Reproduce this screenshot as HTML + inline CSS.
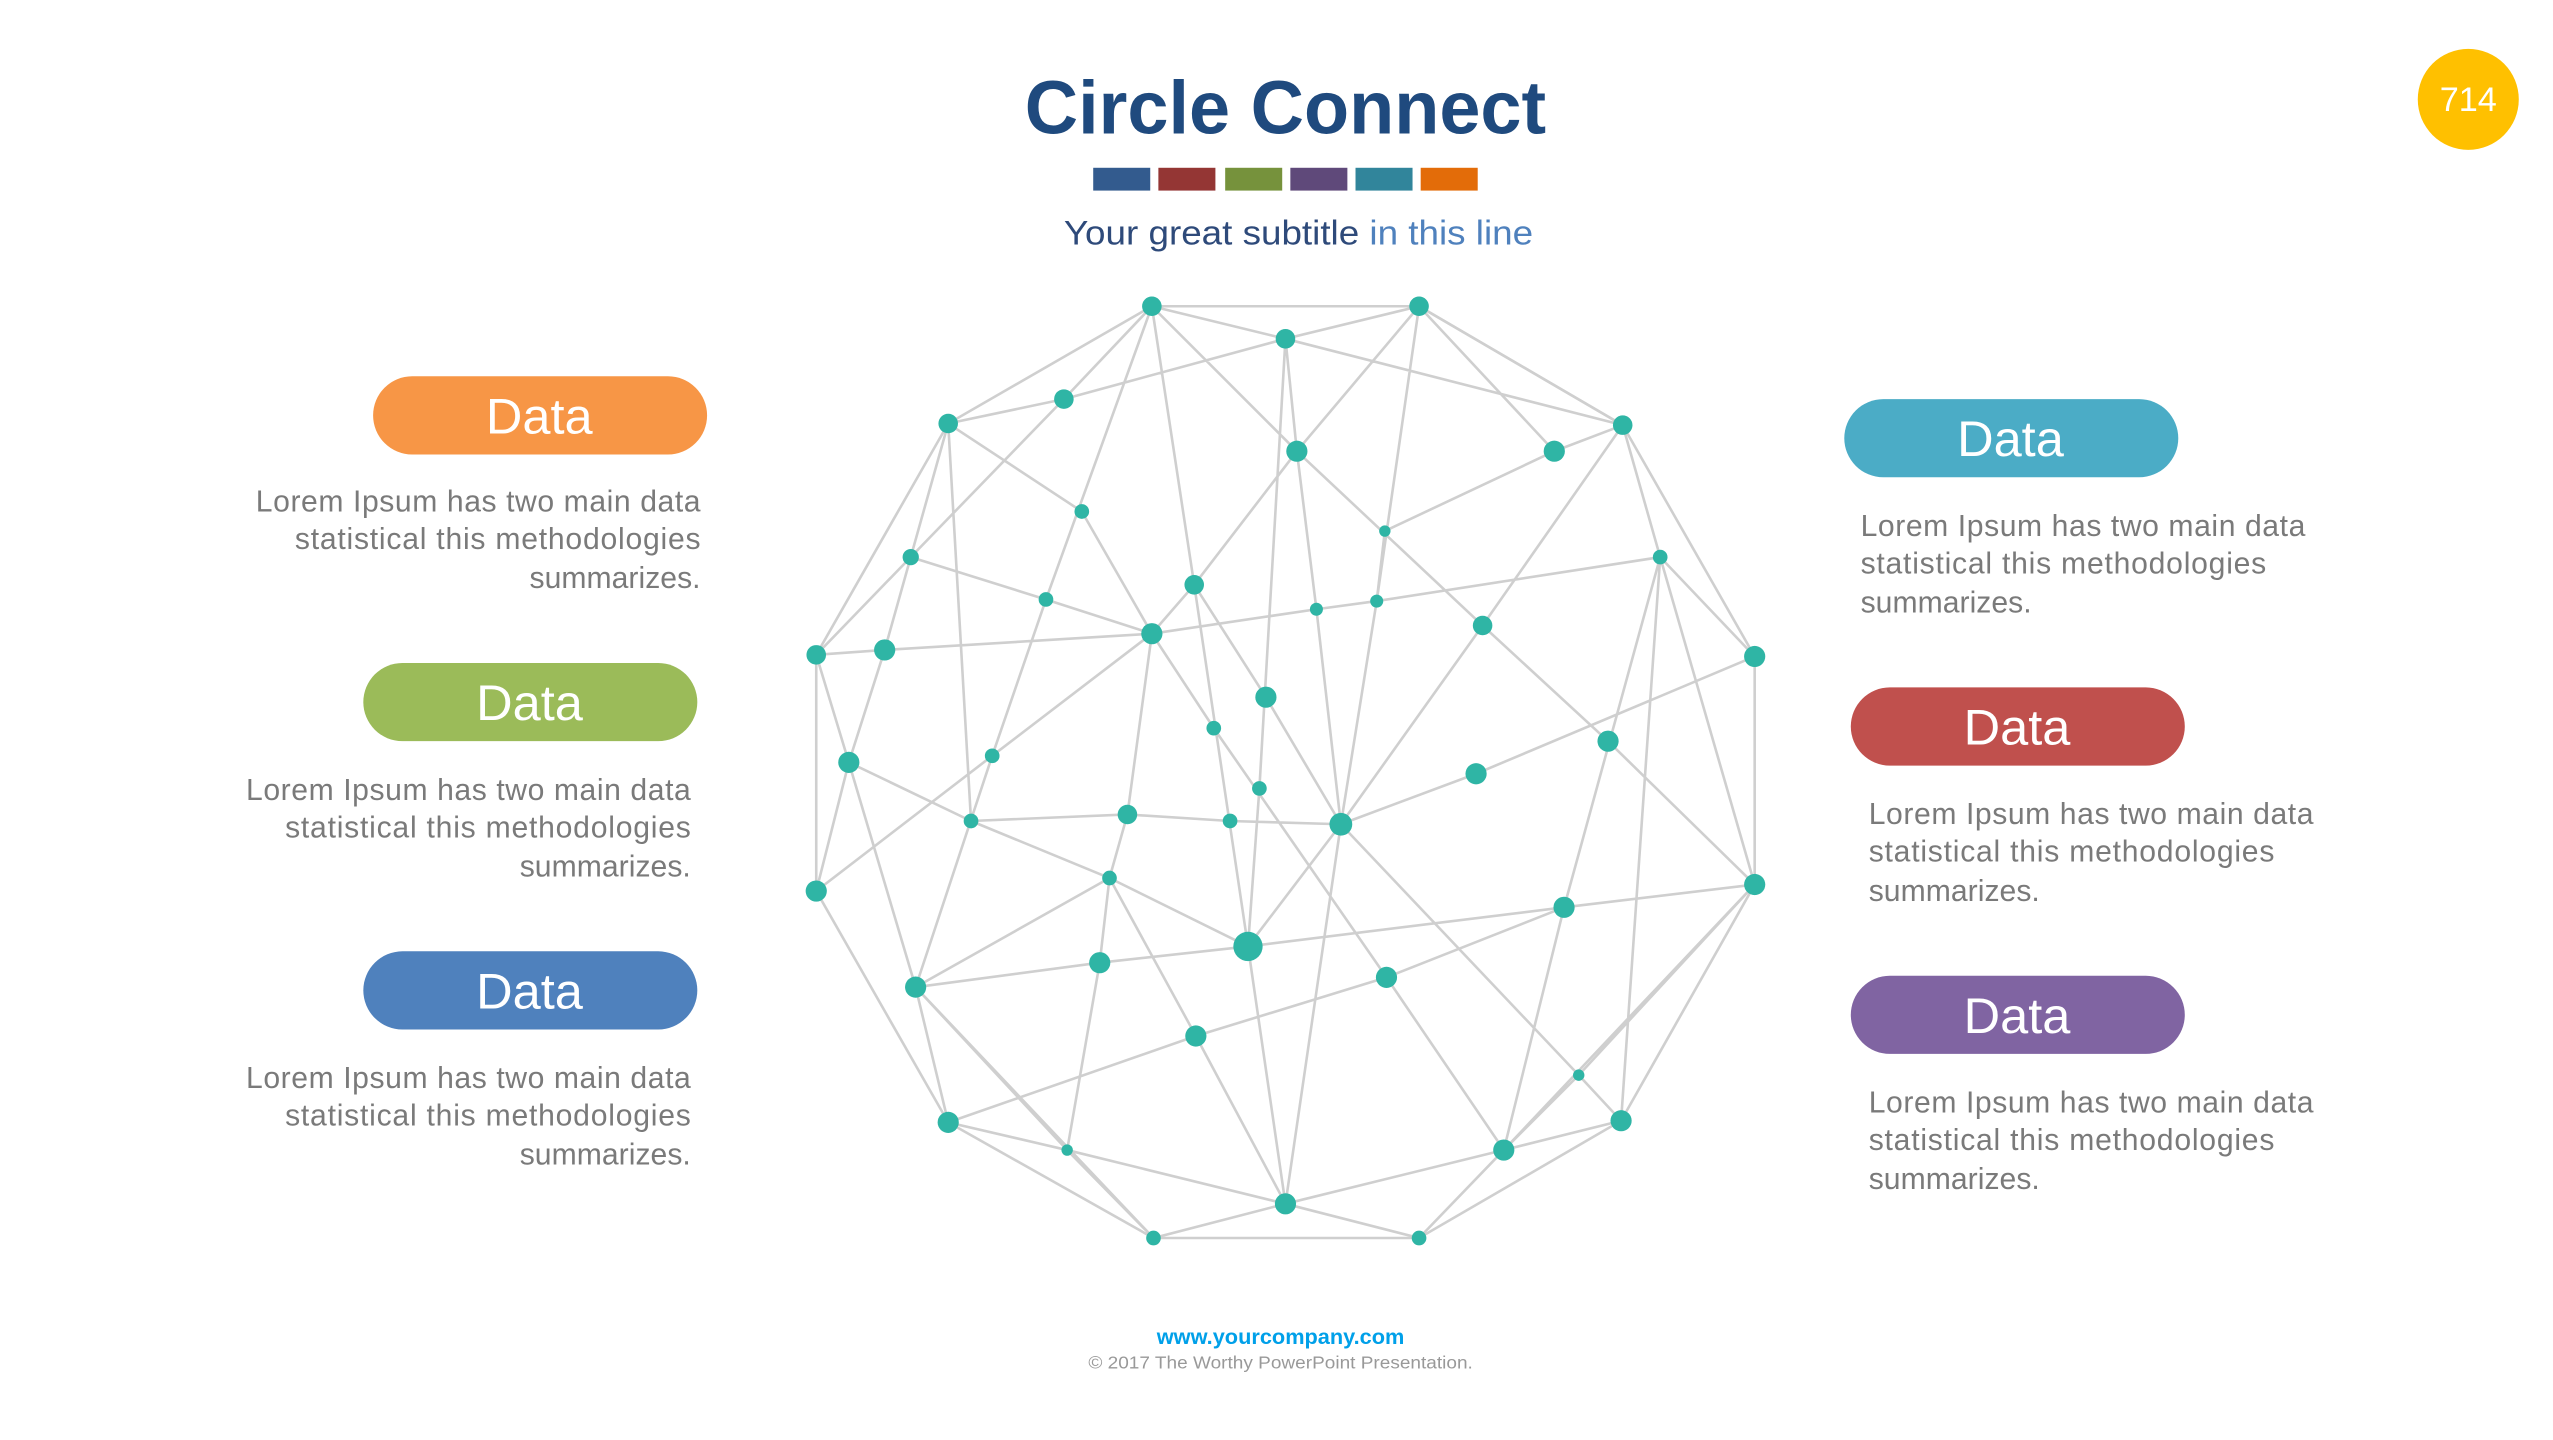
<!DOCTYPE html>
<html><head><meta charset="utf-8"><style>
html,body{margin:0;padding:0;background:#fff;}
svg{display:block;}
text{font-family:"Liberation Sans",sans-serif;}
</style></head><body>
<svg width="2553" height="1440" viewBox="0 0 1567 884" preserveAspectRatio="none" xmlns="http://www.w3.org/2000/svg">
<rect width="1567" height="884" fill="#fff"/>
<text x="789" y="82" text-anchor="middle" font-size="46" font-weight="bold" fill="#1f4a7e" textLength="320" lengthAdjust="spacingAndGlyphs">Circle Connect</text>
<rect x="671" y="103" width="35" height="14" fill="#335b8e"/>
<rect x="711" y="103" width="35" height="14" fill="#943634"/>
<rect x="752" y="103" width="35" height="14" fill="#76923c"/>
<rect x="792" y="103" width="35" height="14" fill="#5f497a"/>
<rect x="832" y="103" width="35" height="14" fill="#31859b"/>
<rect x="872" y="103" width="35" height="14" fill="#e36c09"/>
<text x="797" y="150" text-anchor="middle" font-size="21" fill="#2e4a7a" textLength="288" lengthAdjust="spacingAndGlyphs">Your great subtitle <tspan fill="#4f81bd">in this line</tspan></text>
<circle cx="1515" cy="61" r="31" fill="#ffc000"/>
<text x="1515" y="68" text-anchor="middle" font-size="21" fill="#fff">714</text>

<g stroke="#cfcfcf" stroke-width="1.6" fill="none">
<path d="M707,188L871,188L996,261L1077,403L1077,543L995,688L871,760L708,760L582,689L501,547L501,402L582,260Z"/>
<path d="M707,188L789,208L871,188 M707,188L653,245L582,260 M653,245L789,208 M582,260L559,342L501,402 M559,342L653,245 M582,260L664,314L707,389 M582,260L596,504 M707,188L642,368L609,464L562,606 M642,368L559,342 M642,368L707,389 M501,402L543,399L707,389 M543,399L559,342 M543,399L521,468 M501,402L521,468L501,547 M521,468L562,606 M521,468L596,504 M501,547L609,464L707,389 M596,504L692,500L755,504L823,506 M596,504L681,539L766,581 M681,539L562,606 M681,539L675,591L655,706 M562,606L675,591L766,581L960,557L1077,543 M562,606L582,689 M562,606L655,706 M562,606L708,760 M582,689L655,706L789,739L871,760 M655,706L708,760L789,739 M789,739L923,706L995,688 M923,706L969,660L1077,543 M923,706L871,760 M969,660L823,506 M969,660L995,688 M582,689L734,636L851,600L960,557 M734,636L789,739 M681,539L734,636 M745,447L851,600L923,706 M707,389L745,447 M707,389L692,500L681,539 M707,389L733,359L796,277 M733,359L766,581 M733,359L777,428L823,506 M789,208L773,484L766,581 M789,208L796,277 M789,208L996,261 M707,188L796,277 M796,277L808,374L823,506 M796,277L910,384 M871,188L796,277 M871,188L845,369L823,506 M871,188L954,277 M707,188L733,359 M871,188L996,261 M954,277L996,261 M954,277L850,326 M850,326L845,369 M707,389L808,374L845,369L1019,342 M996,261L1019,342L1077,403 M996,261L910,384L823,506 M1019,342L1077,543 M1019,342L960,557L923,706 M910,384L987,455L1077,543 M1077,403L906,475L823,506 M1019,342L995,688 M823,506L766,581 M823,506L789,739 M823,506L969,660L995,688 M766,581L789,739 M1077,543L923,706"/>
</g>

<g fill="#2fb5a5">
<circle cx="707" cy="188" r="6"/><circle cx="871" cy="188" r="6"/><circle cx="789" cy="208" r="6"/><circle cx="653" cy="245" r="6"/><circle cx="582" cy="260" r="6"/><circle cx="796" cy="277" r="6.5"/><circle cx="954" cy="277" r="6.5"/><circle cx="996" cy="261" r="6"/><circle cx="664" cy="314" r="4.5"/><circle cx="850" cy="326" r="3.5"/><circle cx="559" cy="342" r="5"/><circle cx="1019" cy="342" r="4.5"/><circle cx="642" cy="368" r="4.5"/><circle cx="733" cy="359" r="6"/><circle cx="808" cy="374" r="4"/><circle cx="845" cy="369" r="4"/><circle cx="910" cy="384" r="6"/><circle cx="501" cy="402" r="6"/><circle cx="543" cy="399" r="6.5"/><circle cx="707" cy="389" r="6.5"/><circle cx="1077" cy="403" r="6.5"/><circle cx="777" cy="428" r="6.5"/><circle cx="745" cy="447" r="4.5"/><circle cx="521" cy="468" r="6.5"/><circle cx="609" cy="464" r="4.5"/><circle cx="987" cy="455" r="6.5"/><circle cx="906" cy="475" r="6.5"/><circle cx="773" cy="484" r="4.5"/><circle cx="596" cy="504" r="4.5"/><circle cx="692" cy="500" r="6"/><circle cx="755" cy="504" r="4.5"/><circle cx="823" cy="506" r="7"/><circle cx="501" cy="547" r="6.5"/><circle cx="681" cy="539" r="4.5"/><circle cx="1077" cy="543" r="6.5"/><circle cx="960" cy="557" r="6.5"/><circle cx="562" cy="606" r="6.5"/><circle cx="675" cy="591" r="6.5"/><circle cx="766" cy="581" r="9"/><circle cx="851" cy="600" r="6.5"/><circle cx="734" cy="636" r="6.5"/><circle cx="969" cy="660" r="3.5"/><circle cx="582" cy="689" r="6.5"/><circle cx="995" cy="688" r="6.5"/><circle cx="655" cy="706" r="3.5"/><circle cx="923" cy="706" r="6.5"/><circle cx="789" cy="739" r="6.5"/><circle cx="708" cy="760" r="4.5"/><circle cx="871" cy="760" r="4.5"/>
</g>

<g font-size="31" fill="#fff" text-anchor="middle">
<rect x="229" y="231" width="205" height="48" rx="24" fill="#f79646"/><text x="331" y="266">Data</text>
<rect x="223" y="407" width="205" height="48" rx="24" fill="#9bbb59"/><text x="325" y="442">Data</text>
<rect x="223" y="584" width="205" height="48" rx="24" fill="#4f81bd"/><text x="325" y="619">Data</text>
<rect x="1132" y="245" width="205" height="48" rx="24" fill="#4bacc6"/><text x="1234" y="280">Data</text>
<rect x="1136" y="422" width="205" height="48" rx="24" fill="#c0504d"/><text x="1238" y="457">Data</text>
<rect x="1136" y="599" width="205" height="48" rx="24" fill="#8064a2"/><text x="1238" y="634">Data</text>
</g>

<g font-size="18.5" fill="#7a7a7a" lengthAdjust="spacingAndGlyphs">
<g text-anchor="end">
<text x="430" y="314" textLength="273">Lorem Ipsum has two main data</text><text x="430" y="337" textLength="249">statistical this methodologies</text><text x="430" y="361" textLength="105">summarizes.</text>
<text x="424" y="491" textLength="273">Lorem Ipsum has two main data</text><text x="424" y="514" textLength="249">statistical this methodologies</text><text x="424" y="538" textLength="105">summarizes.</text>
<text x="424" y="668" textLength="273">Lorem Ipsum has two main data</text><text x="424" y="691" textLength="249">statistical this methodologies</text><text x="424" y="715" textLength="105">summarizes.</text>
</g>
<text x="1142" y="329" textLength="273">Lorem Ipsum has two main data</text><text x="1142" y="352" textLength="249">statistical this methodologies</text><text x="1142" y="376" textLength="105">summarizes.</text>
<text x="1147" y="506" textLength="273">Lorem Ipsum has two main data</text><text x="1147" y="529" textLength="249">statistical this methodologies</text><text x="1147" y="553" textLength="105">summarizes.</text>
<text x="1147" y="683" textLength="273">Lorem Ipsum has two main data</text><text x="1147" y="706" textLength="249">statistical this methodologies</text><text x="1147" y="730" textLength="105">summarizes.</text>
</g>

<text x="786" y="825" text-anchor="middle" font-size="13" font-weight="bold" fill="#00a0e9" textLength="152" lengthAdjust="spacingAndGlyphs">www.yourcompany.com</text>
<text x="786" y="840" text-anchor="middle" font-size="10.5" fill="#999" textLength="236" lengthAdjust="spacingAndGlyphs">© 2017 The Worthy PowerPoint Presentation.</text>
</svg>
</body></html>
